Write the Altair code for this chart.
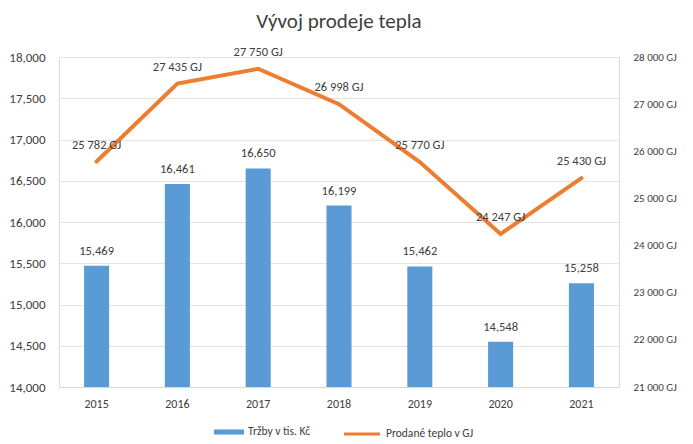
import altair as alt
import pandas as pd

years = ["2015", "2016", "2017", "2018", "2019", "2020", "2021"]
trzby = [15469, 16461, 16650, 16199, 15462, 14548, 15258]
teplo = [25782, 27435, 27750, 26998, 25770, 24247, 25430]

df = pd.DataFrame({
    "rok": years,
    "trzby": trzby,
    "teplo": teplo,
    "s1": ["Tržby v tis. Kč"] * len(years),
    "s2": ["Prodané teplo v GJ"] * len(years),
})
df["teplo_lbl"] = [f"{v:,}".replace(",", " ") + " GJ" for v in teplo]
df["trzby_lbl"] = [f"{v:,}" for v in trzby]

FONT = "Carlito, Calibri, Liberation Sans, sans-serif"
TXT = "#404040"

x = alt.X("rok:N", title=None, scale=alt.Scale(paddingInner=0.69, paddingOuter=0.31),
          axis=alt.Axis(labelAngle=0, ticks=False, domain=True, domainColor="#d9d9d9",
                        labelColor=TXT, labelFontSize=12, labelPadding=11))

yl_scale = alt.Scale(domain=[14000, 18000], nice=False, zero=False)
yl = alt.Y("trzby:Q", title=None, scale=yl_scale,
           axis=alt.Axis(values=list(range(14000, 18001, 500)), format=",d", ticks=False,
                         domain=False, grid=True, gridColor="#e3e3e3", labelColor=TXT,
                         labelFontSize=13, labelPadding=14, orient="left"))

bars = alt.Chart(df).mark_bar(clip=True).encode(
    x=x, y=yl,
    color=alt.Color("s1:N", scale=alt.Scale(range=["#5B9BD5"]),
                    legend=alt.Legend(title=None, orient="none", legendX=155, legendY=360,
                                      symbolType="M-1,-0.17H1V0.17H-1Z",
                                      symbolSize=900, symbolStrokeWidth=0,
                                      labelColor=TXT, labelFontSize=11.5, labelOffset=4)),
)
bar_text = alt.Chart(df).mark_text(dy=-15, fontSize=12.5, color=TXT).encode(
    x=x, y=alt.Y("trzby:Q", scale=yl_scale, axis=None),
    text="trzby_lbl:N",
)

yr_scale = alt.Scale(domain=[21000, 28000], nice=False, zero=False)
yr = alt.Y("teplo:Q", title=None, scale=yr_scale,
           axis=alt.Axis(values=list(range(21000, 28001, 1000)), ticks=False, domain=False,
                         grid=False, orient="right", labelColor=TXT, labelFontSize=11,
                         labelPadding=14,
                         labelExpr="replace(format(datum.value, ',d'), ',', ' ') + ' GJ'"))
line = alt.Chart(df).mark_line(strokeWidth=4, strokeCap="round").encode(
    x=x, y=yr,
    color=alt.Color("s2:N", scale=alt.Scale(range=["#ED7D31"]),
                    legend=alt.Legend(title=None, orient="none", legendX=283, legendY=357,
                                      symbolType="stroke",
                                      symbolSize=1300, symbolStrokeWidth=3,
                                      symbolStrokeColor="#ED7D31",
                                      labelColor=TXT, labelFontSize=11.5, labelOffset=4)),
)
line_text = alt.Chart(df).mark_text(dy=-17, fontSize=12.5, color=TXT).encode(
    x=x, y=alt.Y("teplo:Q", scale=yr_scale, axis=None),
    text="teplo_lbl:N",
)

chart = alt.layer(bars, bar_text, line, line_text).resolve_scale(
    y="independent", color="independent"
).properties(
    width=560, height=330,
    padding={"left": 0, "top": 2, "right": 2, "bottom": 0},
    title=alt.TitleParams("Vývoj prodeje tepla", fontSize=21, fontWeight="normal", color=TXT,
                          anchor="middle", offset=14),
).configure_view(stroke=None).configure(font=FONT)

chart.save("out.html", embed_options={"renderer": "svg", "actions": False})
